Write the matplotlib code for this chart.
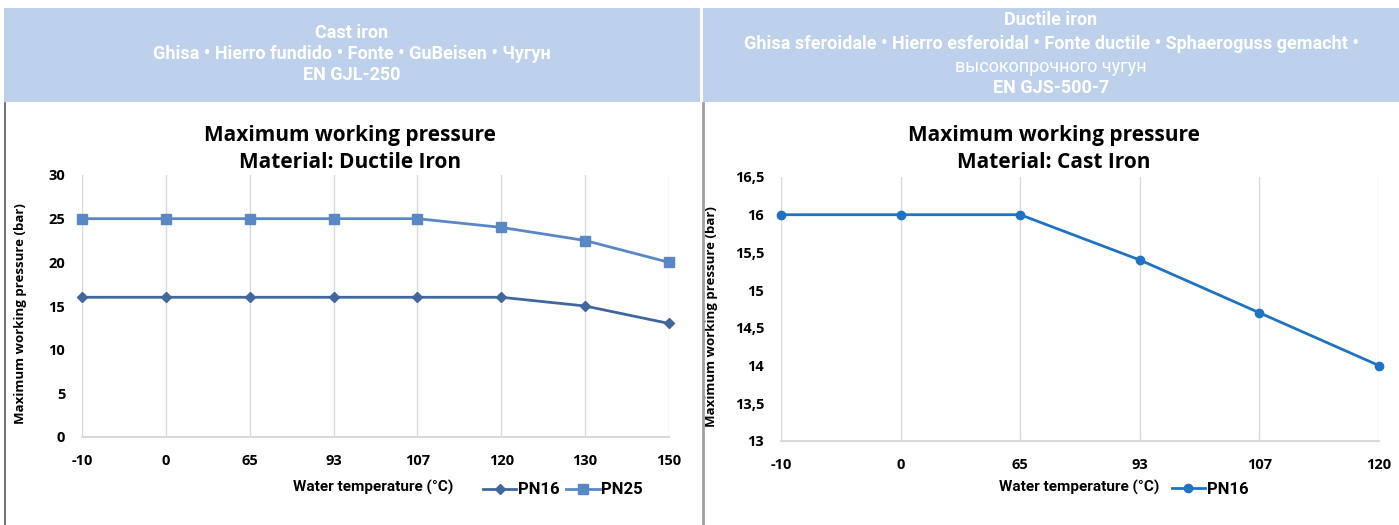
import matplotlib
matplotlib.use("Agg")
import matplotlib.pyplot as plt
from matplotlib.patches import Rectangle
from matplotlib.lines import Line2D

# chart data
temps_ductile = ["-10", "0", "65", "93", "107", "120", "130", "150"]
pn16_ductile = [16, 16, 16, 16, 16, 16, 15, 13]
pn25_ductile = [25, 25, 25, 25, 25, 24, 22.5, 20]

temps_cast = ["-10", "0", "65", "93", "107", "120"]
pn16_cast = [16, 16, 16, 15.4, 14.7, 14]

ticks_ductile = [0, 5, 10, 15, 20, 25, 30]
ticks_cast = [13, 13.5, 14, 14.5, 15, 15.5, 16, 16.5]

header_left = ["Cast iron", "Ghisa \u2022 Hierro fundido \u2022 Fonte \u2022 GuBeisen \u2022 \u0427\u0443\u0433\u0443\u043d", "EN GJL-250"]
header_right = ["Ductile iron",
                "Ghisa sferoidale \u2022 Hierro esferoidal \u2022 Fonte ductile \u2022 Sphaeroguss gemacht \u2022",
                "\u0432\u044b\u0441\u043e\u043a\u043e\u043f\u0440\u043e\u0447\u043d\u043e\u0433\u043e \u0447\u0443\u0433\u0443\u043d",
                "EN GJS-500-7"]

W, H = 1399, 525
HEADER_BG = "#BDD1EC"
GRID = "#D9D9D9"
C_PN16 = "#41679F"
C_PN25 = "#5A88C6"
C_CAST = "#1F73C4"

plt.rcParams['font.family'] = ['Open Sans', 'DejaVu Sans']

fig = plt.figure(figsize=(W / 100, H / 100), dpi=100)


def fx(px):
    return px / W


def fy(py):
    return 1 - py / H


# header bands
fig.patches.append(Rectangle((fx(4), fy(102)), fx(696), (94) / H, transform=fig.transFigure,
                             facecolor=HEADER_BG, edgecolor="none"))
fig.patches.append(Rectangle((fx(703), fy(102)), fx(696), (94) / H, transform=fig.transFigure,
                             facecolor=HEADER_BG, edgecolor="none"))
# panel separators
fig.lines.append(Line2D([fx(5), fx(5)], [fy(103), fy(525)], transform=fig.transFigure, color="#555555", lw=1.2))
fig.lines.append(Line2D([fx(703), fx(703)], [fy(103), fy(525)], transform=fig.transFigure, color="#A0A0A0", lw=2))

hdr_font = dict(family=['Roboto', 'DejaVu Sans'], color="white", ha="center", va="center")
for txt, y in zip(header_left, [33, 54, 75]):
    fig.text(fx(352), fy(y), txt, fontsize=13, fontweight="bold", **hdr_font)
for i, (txt, y) in enumerate(zip(header_right, [20, 44, 67, 88])):
    fig.text(fx(1051), fy(y), txt, fontsize=13, fontweight="normal" if i == 2 else "bold", **hdr_font)


def style_axes(ax, cats, yticks, ylabels):
    ax.set_xlim(0, len(cats) - 1)
    ax.set_ylim(yticks[0], yticks[-1])
    ax.set_xticks(range(len(cats)))
    ax.set_xticklabels(cats, fontsize=10.5, fontweight="bold")
    ax.set_yticks(yticks)
    ax.set_yticklabels(ylabels, fontsize=10.5, fontweight="bold")
    ax.tick_params(length=0, pad=12, axis="x")
    ax.tick_params(length=0, pad=12, axis="y")
    ax.grid(axis="x", color=GRID, lw=1)
    ax.set_axisbelow(True)
    for s in ["top", "right", "left"]:
        ax.spines[s].set_visible(False)
    ax.spines["bottom"].set_color(GRID)
    ax.spines["bottom"].set_linewidth(1.5)
    ax.set_ylabel("Maximum working pressure (bar)", fontsize=9.5, fontweight="bold")


# left: ductile iron ratings
ax1 = fig.add_axes([fx(82), fy(437), fx(587), 262 / H])
ax1.plot(range(len(temps_ductile)), pn16_ductile, color=C_PN16, lw=2, marker="D", ms=5, label="PN16", clip_on=False)
ax1.plot(range(len(temps_ductile)), pn25_ductile, color=C_PN25, lw=2, marker="s", ms=7, label="PN25", clip_on=False)
style_axes(ax1, temps_ductile, ticks_ductile, [str(t) for t in ticks_ductile])
ax1.yaxis.set_label_coords(fx(27 - 82) / fx(587), 0.47)
ax1.legend(loc="center", bbox_to_anchor=(fx(563), fy(490)), bbox_transform=fig.transFigure,
           ncol=2, frameon=False, handlelength=2.0, handletextpad=0.1, columnspacing=0.4,
           prop=dict(family=['Roboto', 'DejaVu Sans'], weight="bold", size=12))
fig.text(fx(373), fy(487), "Water temperature (\u00b0C)", ha="center", va="center",
         family=['Roboto', 'DejaVu Sans'], fontsize=11, fontweight="bold")
fig.text(fx(350), fy(135), "Maximum working pressure", ha="center", va="center", fontsize=15, fontweight="bold")
fig.text(fx(350), fy(163), "Material: Ductile Iron", ha="center", va="center", fontsize=15, fontweight="bold")

# right: cast iron ratings
ax2 = fig.add_axes([fx(781), fy(441), fx(598), 264 / H])
ax2.plot(range(len(temps_cast)), pn16_cast, color=C_CAST, lw=2, marker="o", ms=6, label="PN16", clip_on=False)
style_axes(ax2, temps_cast, ticks_cast, [f"{t:g}".replace(".", ",") for t in ticks_cast])
ax2.yaxis.set_label_coords(fx(718 - 781) / fx(598), 0.47)
ax2.legend(loc="center", bbox_to_anchor=(fx(1210), fy(489)), bbox_transform=fig.transFigure,
           frameon=False, handlelength=2.0, handletextpad=0.1,
           prop=dict(family=['Roboto', 'DejaVu Sans'], weight="bold", size=12))
fig.text(fx(1079), fy(487), "Water temperature (\u00b0C)", ha="center", va="center",
         family=['Roboto', 'DejaVu Sans'], fontsize=11, fontweight="bold")
fig.text(fx(1054), fy(135), "Maximum working pressure", ha="center", va="center", fontsize=15, fontweight="bold")
fig.text(fx(1054), fy(163), "Material: Cast Iron", ha="center", va="center", fontsize=15, fontweight="bold")

fig.savefig("out.png", dpi=100)
